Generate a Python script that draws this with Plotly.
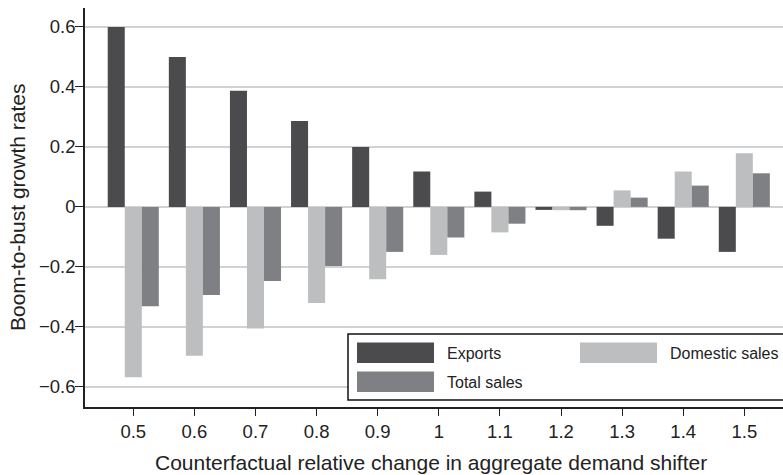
import plotly.graph_objects as go

# Counterfactual relative change in the aggregate demand shifter
shifter = [0.5, 0.6, 0.7, 0.8, 0.9, 1.0, 1.1, 1.2, 1.3, 1.4, 1.5]
shifter_labels = ["0.5", "0.6", "0.7", "0.8", "0.9", "1", "1.1", "1.2", "1.3", "1.4", "1.5"]

# Boom-to-bust growth rates by sales component
exports = [0.600, 0.500, 0.387, 0.286, 0.200, 0.118, 0.051, -0.010, -0.063, -0.106, -0.150]
domestic_sales = [-0.568, -0.496, -0.405, -0.320, -0.241, -0.160, -0.085, -0.011, 0.055, 0.118, 0.179]
total_sales = [-0.331, -0.294, -0.247, -0.197, -0.150, -0.102, -0.056, -0.011, 0.031, 0.071, 0.112]

y_ticks = [-0.6, -0.4, -0.2, 0.0, 0.2, 0.4, 0.6]
y_tick_labels = ["\u22120.6", "\u22120.4", "\u22120.2", "0", "0.2", "0.4", "0.6"]

series = [
    ("Exports", exports, "#4b4b4d"),
    ("Domestic sales", domestic_sales, "#bdbec0"),
    ("Total sales", total_sales, "#7f8083"),
]

FONT = "Liberation Sans, Arial, Helvetica, sans-serif"
W, H = 783, 475
L, R, T, B = 85, 0, 8, 68
plot_w = W - L - R
plot_h = H - T - B


def px_x(x):
    return (x - L) / plot_w


def px_y(y):
    return (H - B - y) / plot_h


fig = go.Figure()
for name, vals, color in series:
    fig.add_trace(go.Bar(
        x=shifter, y=vals, name=name,
        marker=dict(color=color, line=dict(width=0)),
        showlegend=False,
    ))

# Boxed legend with wide swatches, running off the right edge
shapes = [
    dict(type="rect", xref="paper", yref="paper",
         x0=px_x(348), x1=px_x(790), y0=px_y(400), y1=px_y(334),
         line=dict(color="#111111", width=1.5), fillcolor="white", layer="above"),
]
annotations = []
legend_items = [
    ("Exports", "#4b4b4d", 357, 342.5),
    ("Domestic sales", "#bdbec0", 580, 342.5),
    ("Total sales", "#7f8083", 357, 371.5),
]
for text, color, sx, sy in legend_items:
    shapes.append(dict(type="rect", xref="paper", yref="paper",
                       x0=px_x(sx), x1=px_x(sx + 77), y0=px_y(sy + 20.5), y1=px_y(sy),
                       line=dict(width=0), fillcolor=color, layer="above"))
    annotations.append(dict(text=text, xref="paper", yref="paper",
                            x=px_x(sx + 88), y=px_y(sy + 10.5),
                            xanchor="left", yanchor="middle", showarrow=False,
                            font=dict(family=FONT, size=16, color="#222222")))

# Axis titles
annotations.append(dict(text="Counterfactual relative change in aggregate demand shifter",
                        xref="paper", yref="paper", x=px_x(431), y=px_y(462),
                        xanchor="center", yanchor="middle", showarrow=False,
                        font=dict(family=FONT, size=21, color="#222222")))
annotations.append(dict(text="Boom-to-bust growth rates", textangle=-90,
                        xref="paper", yref="paper", x=px_x(17), y=px_y(208),
                        xanchor="center", yanchor="middle", showarrow=False,
                        font=dict(family=FONT, size=21, color="#222222")))

fig.update_layout(
    width=W, height=H,
    margin=dict(l=L, r=R, t=T, b=B, pad=0),
    paper_bgcolor="white", plot_bgcolor="white",
    barmode="group", bargap=0.164, bargroupgap=0,
    font=dict(family=FONT, size=18.5, color="#222222"),
    shapes=shapes, annotations=annotations,
    xaxis=dict(
        range=[0.421, 1.5633], tickvals=shifter, ticktext=shifter_labels,
        showgrid=False, zeroline=False,
        showline=True, linecolor="#222222", linewidth=1.5,
        ticks="outside", ticklen=7, tickwidth=1.3, tickcolor="#222222",
        tickfont=dict(family=FONT, size=18.5, color="#222222"),
    ),
    yaxis=dict(
        range=[-0.667, 0.663], tickvals=y_ticks, ticktext=y_tick_labels,
        showgrid=True, gridcolor="#d2d2d2", gridwidth=1.5,
        zeroline=False,
        showline=True, linecolor="#222222", linewidth=1.5,
        ticks="outside", ticklen=8, tickwidth=1.3, tickcolor="#222222",
        ticklabelstandoff=-4,
        tickfont=dict(family=FONT, size=18.5, color="#222222"),
    ),
)

fig.write_html("out.html")
